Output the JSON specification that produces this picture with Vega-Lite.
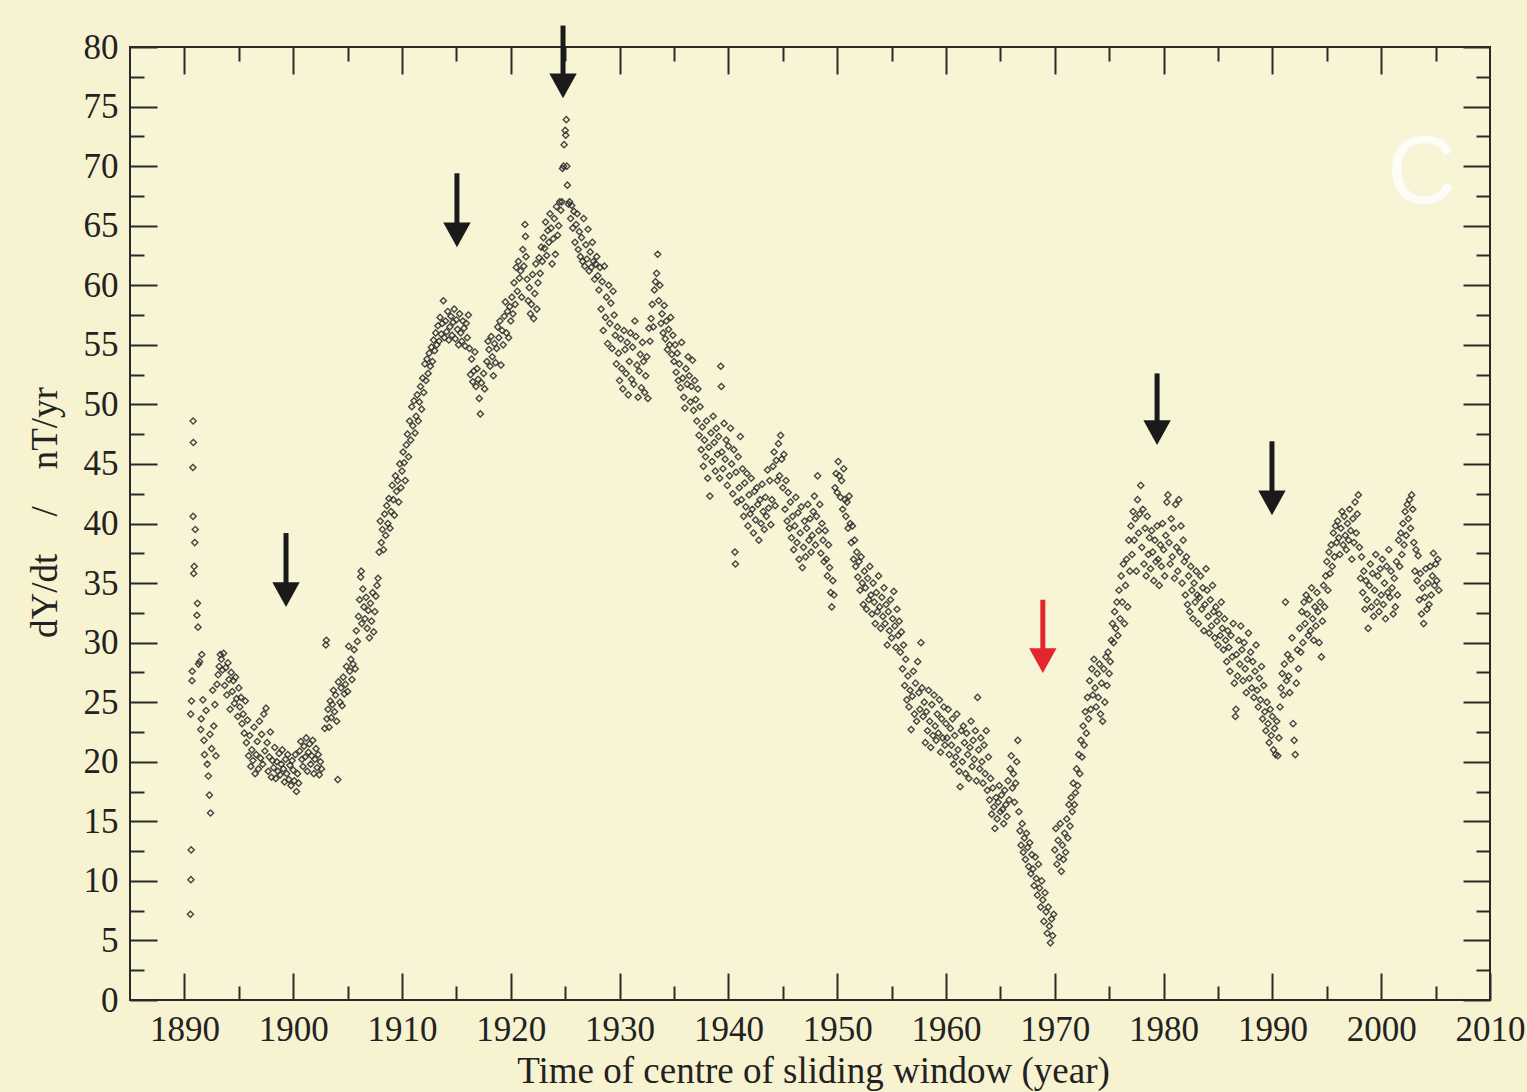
{
"$schema": "https://vega.github.io/schema/vega-lite/v6.json",
"width": 1360, "height": 953,
"autosize": "none",
"padding": {"left": 130, "top": 47, "right": 37, "bottom": 92},
"background": "#f7f2d0",
"config": {
  "view": {"stroke": "#2a2a2a", "strokeWidth": 2, "fill": "#f8f4d6"},
  "font": "Liberation Serif",
  "axis": {"domain": false, "grid": false, "tickColor": "#2a2a2a", "tickWidth": 2, "labelFont": "Liberation Serif", "labelFontSize": 35, "labelColor": "#222222", "titleFont": "Liberation Serif", "titleFontSize": 37, "titleFontWeight": "normal", "titleColor": "#222222", "labelFlush": false, "labelOverlap": false}
},
"datasets": {
"arrows": [
 {"yr": 1899.34, "from": 39.2, "to": 33.0, "kind": "black"},
 {"yr": 1915.05, "from": 69.4, "to": 63.2, "kind": "black"},
 {"yr": 1924.8, "from": 81.8, "to": 75.7, "kind": "black"},
 {"yr": 1968.9, "from": 33.6, "to": 27.45, "kind": "red"},
 {"yr": 1979.4, "from": 52.6, "to": 46.6, "kind": "black"},
 {"yr": 1989.96, "from": 46.9, "to": 40.7, "kind": "black"}
],
"label": [{"yr": 2003.75, "dy": 69.3, "txt": "C"}],
"pts": [
{"yr":1890.55,"dy":7.2},{"yr":1890.6,"dy":10.1},{"yr":1890.62,"dy":12.6},{"yr":1890.58,"dy":24.0},{"yr":1890.65,"dy":25.1},{"yr":1890.7,"dy":26.8},{"yr":1890.72,"dy":27.6},{"yr":1890.85,"dy":35.8},{"yr":1890.9,"dy":36.4},{"yr":1890.8,"dy":40.6},{"yr":1890.78,"dy":44.7},{"yr":1890.82,"dy":46.8},{"yr":1890.8,"dy":48.6},{"yr":1891.0,"dy":39.5},{"yr":1890.95,"dy":38.4},{"yr":1891.2,"dy":33.3},{"yr":1891.15,"dy":32.3},{"yr":1891.25,"dy":31.3},
{"yr":1891.3,"dy":28.2},{"yr":1891.4,"dy":28.4},{"yr":1891.5,"dy":22.7},{"yr":1891.55,"dy":23.6},{"yr":1891.6,"dy":29.0},{"yr":1891.7,"dy":25.2},{"yr":1891.8,"dy":21.8},{"yr":1891.85,"dy":20.6},{"yr":1892.0,"dy":24.3},{"yr":1892.1,"dy":19.8},{"yr":1892.2,"dy":18.8},{"yr":1892.3,"dy":17.2},{"yr":1892.4,"dy":15.7},{"yr":1892.35,"dy":22.3},{"yr":1892.5,"dy":21.1},{"yr":1892.6,"dy":26.0},{"yr":1892.7,"dy":23.0},{"yr":1892.8,"dy":24.8},{"yr":1892.9,"dy":20.5},{"yr":1893.0,"dy":26.5},{"yr":1893.1,"dy":27.3},{"yr":1893.2,"dy":28.0},{"yr":1893.3,"dy":29.0},{"yr":1893.4,"dy":28.6},{"yr":1893.5,"dy":27.7},{"yr":1893.6,"dy":29.1},{"yr":1893.7,"dy":26.4},{"yr":1893.8,"dy":27.9},{"yr":1893.9,"dy":25.6},{"yr":1894.0,"dy":28.3},{"yr":1894.1,"dy":26.9},{"yr":1894.2,"dy":24.4},{"yr":1894.3,"dy":27.5},{"yr":1894.4,"dy":25.9},{"yr":1894.5,"dy":26.8},{"yr":1894.6,"dy":24.9},{"yr":1894.7,"dy":27.1},{"yr":1894.8,"dy":25.3},{"yr":1894.9,"dy":23.8},{"yr":1895.0,"dy":26.2},{"yr":1895.1,"dy":24.6},{"yr":1895.2,"dy":25.4},{"yr":1895.3,"dy":23.2},{"yr":1895.4,"dy":24.0},{"yr":1895.5,"dy":22.4},{"yr":1895.6,"dy":25.1},{"yr":1895.7,"dy":21.6},{"yr":1895.8,"dy":23.5},{"yr":1895.9,"dy":20.5},{"yr":1896.0,"dy":22.2},
{"yr":1896.1,"dy":19.6},{"yr":1896.2,"dy":21.0},{"yr":1896.3,"dy":20.1},{"yr":1896.4,"dy":22.9},{"yr":1896.5,"dy":19.0},{"yr":1896.6,"dy":20.6},{"yr":1896.7,"dy":21.7},{"yr":1896.8,"dy":19.4},{"yr":1896.9,"dy":23.4},{"yr":1897.0,"dy":20.3},{"yr":1897.1,"dy":22.3},{"yr":1897.2,"dy":19.8},{"yr":1897.3,"dy":24.0},{"yr":1897.4,"dy":20.9},{"yr":1897.5,"dy":24.5},{"yr":1897.6,"dy":21.6},{"yr":1897.7,"dy":19.2},{"yr":1897.8,"dy":20.4},{"yr":1897.9,"dy":22.5},{"yr":1898.0,"dy":18.7},{"yr":1898.1,"dy":20.1},{"yr":1898.2,"dy":19.5},{"yr":1898.3,"dy":21.2},{"yr":1898.4,"dy":18.6},{"yr":1898.5,"dy":20.0},{"yr":1898.6,"dy":19.2},{"yr":1898.7,"dy":20.7},{"yr":1898.8,"dy":18.9},{"yr":1898.9,"dy":19.8},{"yr":1899.0,"dy":21.0},{"yr":1899.1,"dy":19.4},{"yr":1899.2,"dy":18.3},{"yr":1899.3,"dy":20.2},{"yr":1899.4,"dy":19.0},{"yr":1899.5,"dy":20.6},{"yr":1899.6,"dy":18.5},{"yr":1899.7,"dy":19.7},{"yr":1899.8,"dy":18.0},{"yr":1899.9,"dy":20.1},{"yr":1900.0,"dy":19.3},{"yr":1900.1,"dy":18.4},{"yr":1900.2,"dy":20.6},{"yr":1900.3,"dy":17.5},{"yr":1900.4,"dy":19.0},{"yr":1900.5,"dy":18.2},{"yr":1900.6,"dy":20.9},{"yr":1900.7,"dy":21.7},{"yr":1900.8,"dy":20.2},{"yr":1900.9,"dy":19.6},{"yr":1901.0,"dy":21.3},{"yr":1901.1,"dy":20.4},{"yr":1901.2,"dy":22.0},{"yr":1901.3,"dy":19.2},{"yr":1901.4,"dy":20.8},{"yr":1901.5,"dy":21.5},{"yr":1901.6,"dy":19.8},{"yr":1901.7,"dy":20.5},{"yr":1901.8,"dy":21.8},{"yr":1901.9,"dy":19.0},{"yr":1902.0,"dy":20.2},{"yr":1902.1,"dy":21.1},{"yr":1902.2,"dy":19.5},{"yr":1902.3,"dy":20.6},{"yr":1902.4,"dy":18.9},{"yr":1902.5,"dy":20.0},{"yr":1902.6,"dy":19.4},
{"yr":1902.9,"dy":22.8},{"yr":1903.0,"dy":29.8},{"yr":1903.05,"dy":30.2},{"yr":1903.1,"dy":23.6},{"yr":1903.2,"dy":24.4},{"yr":1903.3,"dy":22.9},{"yr":1903.4,"dy":25.1},{"yr":1903.5,"dy":23.7},{"yr":1903.6,"dy":24.8},{"yr":1903.7,"dy":26.0},{"yr":1903.8,"dy":24.2},{"yr":1903.9,"dy":25.6},{"yr":1904.0,"dy":23.4},{"yr":1904.1,"dy":18.5},{"yr":1904.15,"dy":26.7},{"yr":1904.3,"dy":25.0},{"yr":1904.4,"dy":26.2},{"yr":1904.5,"dy":24.7},{"yr":1904.6,"dy":27.1},{"yr":1904.7,"dy":25.7},{"yr":1904.8,"dy":26.5},{"yr":1904.9,"dy":28.0},{"yr":1905.0,"dy":25.9},{"yr":1905.1,"dy":29.7},{"yr":1905.2,"dy":27.6},{"yr":1905.3,"dy":28.6},{"yr":1905.4,"dy":26.9},{"yr":1905.5,"dy":28.2},{"yr":1905.6,"dy":29.4},{"yr":1905.7,"dy":27.8},{"yr":1905.8,"dy":31.0},{"yr":1905.9,"dy":30.1},{"yr":1906.0,"dy":32.2},{"yr":1906.1,"dy":33.6},{"yr":1906.2,"dy":35.5},{"yr":1906.25,"dy":36.0},{"yr":1906.3,"dy":31.6},{"yr":1906.4,"dy":34.5},{"yr":1906.5,"dy":33.0},{"yr":1906.6,"dy":32.0},{"yr":1906.7,"dy":33.8},{"yr":1906.8,"dy":31.2},{"yr":1906.9,"dy":32.7},{"yr":1907.0,"dy":30.4},{"yr":1907.1,"dy":33.3},{"yr":1907.2,"dy":31.8},{"yr":1907.3,"dy":34.2},{"yr":1907.4,"dy":30.9},{"yr":1907.5,"dy":32.6},{"yr":1907.6,"dy":33.9},{"yr":1907.7,"dy":34.8},{"yr":1907.8,"dy":35.4},{"yr":1907.9,"dy":37.6},{"yr":1908.0,"dy":40.2},{"yr":1908.1,"dy":38.4},{"yr":1908.2,"dy":39.5},{"yr":1908.3,"dy":37.8},{"yr":1908.4,"dy":40.8},{"yr":1908.5,"dy":39.0},{"yr":1908.6,"dy":41.5},{"yr":1908.7,"dy":40.0},{"yr":1908.8,"dy":42.1},{"yr":1908.9,"dy":39.6},{"yr":1909.0,"dy":41.0},{"yr":1909.1,"dy":43.2},{"yr":1909.2,"dy":42.0},{"yr":1909.3,"dy":40.7},{"yr":1909.4,"dy":44.0},{"yr":1909.5,"dy":42.7},{"yr":1909.6,"dy":43.6},{"yr":1909.7,"dy":41.8},{"yr":1909.8,"dy":45.0},{"yr":1909.9,"dy":43.0},{"yr":1910.0,"dy":44.4},{"yr":1910.1,"dy":46.0},{"yr":1910.2,"dy":45.1},{"yr":1910.3,"dy":43.6},{"yr":1910.4,"dy":46.6},{"yr":1910.5,"dy":47.5},{"yr":1910.6,"dy":45.6},{"yr":1910.7,"dy":48.6},{"yr":1910.8,"dy":47.0},{"yr":1910.9,"dy":49.8},{"yr":1911.0,"dy":48.2},{"yr":1911.1,"dy":50.3},{"yr":1911.2,"dy":47.6},{"yr":1911.3,"dy":49.0},{"yr":1911.4,"dy":50.8},{"yr":1911.5,"dy":48.6},{"yr":1911.6,"dy":50.2},{"yr":1911.7,"dy":51.5},{"yr":1911.8,"dy":49.6},{"yr":1911.9,"dy":52.2},{"yr":1912.0,"dy":51.0},{"yr":1912.1,"dy":53.4},{"yr":1912.2,"dy":52.0},{"yr":1912.3,"dy":53.8},{"yr":1912.4,"dy":52.6},{"yr":1912.5,"dy":54.3},{"yr":1912.6,"dy":53.2},{"yr":1912.7,"dy":54.8},{"yr":1912.8,"dy":53.6},{"yr":1912.9,"dy":55.4},{"yr":1913.0,"dy":54.5},{"yr":1913.1,"dy":56.0},{"yr":1913.2,"dy":55.0},{"yr":1913.3,"dy":56.6},{"yr":1913.4,"dy":55.3},{"yr":1913.5,"dy":57.3},{"yr":1913.6,"dy":55.9},{"yr":1913.7,"dy":56.8},{"yr":1913.8,"dy":58.7},{"yr":1913.9,"dy":55.6},{"yr":1914.0,"dy":57.0},{"yr":1914.1,"dy":56.1},{"yr":1914.2,"dy":57.8},{"yr":1914.3,"dy":55.4},{"yr":1914.4,"dy":56.5},{"yr":1914.5,"dy":57.4},{"yr":1914.6,"dy":55.8},{"yr":1914.7,"dy":56.9},{"yr":1914.8,"dy":58.0},{"yr":1914.9,"dy":55.5},{"yr":1915.0,"dy":57.1},{"yr":1915.1,"dy":56.3},{"yr":1915.2,"dy":55.0},{"yr":1915.3,"dy":57.6},{"yr":1915.4,"dy":56.0},{"yr":1915.5,"dy":55.3},{"yr":1915.6,"dy":57.0},{"yr":1915.7,"dy":56.4},{"yr":1915.8,"dy":54.9},{"yr":1915.9,"dy":56.8},{"yr":1916.0,"dy":55.6},{"yr":1916.1,"dy":57.5},{"yr":1916.2,"dy":54.7},
{"yr":1916.3,"dy":52.5},{"yr":1916.4,"dy":53.8},{"yr":1916.5,"dy":51.9},{"yr":1916.6,"dy":52.8},{"yr":1916.7,"dy":54.4},{"yr":1916.8,"dy":51.5},{"yr":1916.9,"dy":53.0},{"yr":1917.0,"dy":52.1},{"yr":1917.1,"dy":50.5},{"yr":1917.2,"dy":49.2},{"yr":1917.3,"dy":51.8},{"yr":1917.5,"dy":52.6},{"yr":1917.6,"dy":51.3},{"yr":1917.8,"dy":53.6},{"yr":1917.9,"dy":55.3},{"yr":1918.0,"dy":54.6},{"yr":1918.1,"dy":53.2},{"yr":1918.2,"dy":55.7},{"yr":1918.3,"dy":54.0},{"yr":1918.4,"dy":52.4},{"yr":1918.5,"dy":55.1},{"yr":1918.6,"dy":53.5},{"yr":1918.7,"dy":54.7},{"yr":1918.8,"dy":56.5},{"yr":1918.9,"dy":55.6},{"yr":1919.0,"dy":57.0},{"yr":1919.1,"dy":53.3},{"yr":1919.2,"dy":56.2},{"yr":1919.3,"dy":55.0},{"yr":1919.4,"dy":57.4},{"yr":1919.5,"dy":58.6},{"yr":1919.6,"dy":56.0},{"yr":1919.7,"dy":57.8},{"yr":1919.8,"dy":55.6},{"yr":1919.9,"dy":58.2},{"yr":1920.0,"dy":57.0},{"yr":1920.1,"dy":59.0},{"yr":1920.2,"dy":57.6},{"yr":1920.3,"dy":60.2},{"yr":1920.4,"dy":58.4},{"yr":1920.5,"dy":61.5},{"yr":1920.6,"dy":59.5},{"yr":1920.7,"dy":62.0},{"yr":1920.8,"dy":60.6},{"yr":1920.9,"dy":61.2},{"yr":1921.0,"dy":59.0},{"yr":1921.1,"dy":63.0},{"yr":1921.2,"dy":61.6},{"yr":1921.3,"dy":65.1},{"yr":1921.35,"dy":64.1},{"yr":1921.4,"dy":62.4},{"yr":1921.5,"dy":60.5},{"yr":1921.6,"dy":58.7},{"yr":1921.7,"dy":59.8},{"yr":1921.8,"dy":57.6},{"yr":1921.9,"dy":58.4},{"yr":1922.0,"dy":60.9},{"yr":1922.1,"dy":57.2},{"yr":1922.2,"dy":59.3},{"yr":1922.3,"dy":61.8},{"yr":1922.4,"dy":58.0},{"yr":1922.5,"dy":60.2},{"yr":1922.6,"dy":62.3},{"yr":1922.7,"dy":61.0},{"yr":1922.8,"dy":63.2},{"yr":1922.9,"dy":62.0},{"yr":1923.0,"dy":64.0},{"yr":1923.1,"dy":63.1},{"yr":1923.2,"dy":65.3},{"yr":1923.3,"dy":62.5},{"yr":1923.4,"dy":64.6},{"yr":1923.5,"dy":63.6},{"yr":1923.6,"dy":66.0},{"yr":1923.7,"dy":64.8},{"yr":1923.8,"dy":61.8},{"yr":1923.9,"dy":63.9},{"yr":1924.0,"dy":65.6},{"yr":1924.1,"dy":62.6},{"yr":1924.2,"dy":66.6},{"yr":1924.3,"dy":64.2},{"yr":1924.4,"dy":65.0},{"yr":1924.5,"dy":67.0},{"yr":1924.6,"dy":66.3},{"yr":1924.7,"dy":67.0},{"yr":1924.75,"dy":69.8},{"yr":1924.85,"dy":70.0},{"yr":1924.9,"dy":71.8},{"yr":1925.0,"dy":73.0},{"yr":1925.05,"dy":72.6},{"yr":1925.1,"dy":73.9},{"yr":1925.15,"dy":70.0},{"yr":1925.2,"dy":68.4},{"yr":1925.3,"dy":66.8},{"yr":1925.4,"dy":67.0},{"yr":1925.5,"dy":65.6},{"yr":1925.6,"dy":66.7},{"yr":1925.7,"dy":64.8},{"yr":1925.8,"dy":66.2},{"yr":1925.9,"dy":63.6},{"yr":1926.0,"dy":65.1},{"yr":1926.1,"dy":66.0},{"yr":1926.2,"dy":63.0},{"yr":1926.3,"dy":64.5},{"yr":1926.4,"dy":62.4},{"yr":1926.5,"dy":64.0},{"yr":1926.6,"dy":62.0},{"yr":1926.7,"dy":65.6},{"yr":1926.8,"dy":61.6},{"yr":1926.9,"dy":63.4},{"yr":1927.0,"dy":62.2},{"yr":1927.1,"dy":64.7},{"yr":1927.2,"dy":61.2},{"yr":1927.3,"dy":62.8},{"yr":1927.4,"dy":61.5},{"yr":1927.5,"dy":63.6},{"yr":1927.6,"dy":62.0},{"yr":1927.7,"dy":60.5},{"yr":1927.8,"dy":61.8},{"yr":1927.9,"dy":62.4},{"yr":1928.0,"dy":60.8},{"yr":1928.1,"dy":59.6},{"yr":1928.2,"dy":61.5},{"yr":1928.3,"dy":58.0},{"yr":1928.4,"dy":60.3},{"yr":1928.5,"dy":56.2},{"yr":1928.6,"dy":61.6},{"yr":1928.7,"dy":57.3},{"yr":1928.8,"dy":59.0},{"yr":1928.9,"dy":55.1},{"yr":1929.0,"dy":60.0},{"yr":1929.1,"dy":56.8},{"yr":1929.2,"dy":58.5},{"yr":1929.3,"dy":54.7},{"yr":1929.4,"dy":59.5},{"yr":1929.5,"dy":57.5},{"yr":1929.6,"dy":55.8},{"yr":1929.7,"dy":53.4},{"yr":1929.8,"dy":56.5},{"yr":1929.9,"dy":54.3},{"yr":1930.0,"dy":52.0},{"yr":1930.1,"dy":55.5},{"yr":1930.2,"dy":53.0},{"yr":1930.3,"dy":51.3},{"yr":1930.4,"dy":56.2},{"yr":1930.5,"dy":54.6},{"yr":1930.6,"dy":52.6},{"yr":1930.7,"dy":55.2},{"yr":1930.8,"dy":50.8},{"yr":1930.9,"dy":53.6},{"yr":1931.0,"dy":56.0},{"yr":1931.1,"dy":52.1},{"yr":1931.2,"dy":54.8},{"yr":1931.3,"dy":51.7},{"yr":1931.4,"dy":57.0},{"yr":1931.5,"dy":55.7},{"yr":1931.6,"dy":53.3},{"yr":1931.7,"dy":50.6},{"yr":1931.8,"dy":52.8},{"yr":1931.9,"dy":54.2},{"yr":1932.0,"dy":51.4},{"yr":1932.1,"dy":55.2},{"yr":1932.2,"dy":53.6},{"yr":1932.3,"dy":51.0},{"yr":1932.4,"dy":52.4},{"yr":1932.5,"dy":54.0},{"yr":1932.6,"dy":50.5},{"yr":1932.7,"dy":56.4},{"yr":1932.8,"dy":55.3},{"yr":1932.9,"dy":57.2},{"yr":1933.0,"dy":58.4},{"yr":1933.1,"dy":56.5},{"yr":1933.2,"dy":59.6},{"yr":1933.3,"dy":60.3},{"yr":1933.4,"dy":61.0},{"yr":1933.5,"dy":62.6},{"yr":1933.6,"dy":58.7},{"yr":1933.7,"dy":60.0},{"yr":1933.8,"dy":56.8},{"yr":1933.9,"dy":57.6},{"yr":1934.0,"dy":56.0},{"yr":1934.1,"dy":58.3},{"yr":1934.2,"dy":55.5},{"yr":1934.3,"dy":57.0},{"yr":1934.4,"dy":54.6},{"yr":1934.5,"dy":56.3},{"yr":1934.6,"dy":55.0},{"yr":1934.7,"dy":57.3},{"yr":1934.8,"dy":54.2},{"yr":1934.9,"dy":55.8},{"yr":1935.0,"dy":53.6},{"yr":1935.1,"dy":55.0},{"yr":1935.2,"dy":52.7},{"yr":1935.3,"dy":54.3},{"yr":1935.4,"dy":52.0},{"yr":1935.5,"dy":53.4},{"yr":1935.6,"dy":51.4},{"yr":1935.7,"dy":55.2},{"yr":1935.8,"dy":52.2},{"yr":1935.9,"dy":50.6},{"yr":1936.0,"dy":49.7},{"yr":1936.1,"dy":53.0},{"yr":1936.2,"dy":51.7},{"yr":1936.3,"dy":54.0},{"yr":1936.4,"dy":52.4},{"yr":1936.5,"dy":50.2},{"yr":1936.6,"dy":51.5},{"yr":1936.7,"dy":53.7},{"yr":1936.8,"dy":49.5},{"yr":1936.9,"dy":52.0},{"yr":1937.0,"dy":50.4},{"yr":1937.1,"dy":48.6},{"yr":1937.2,"dy":51.3},{"yr":1937.3,"dy":47.4},{"yr":1937.4,"dy":49.8},{"yr":1937.5,"dy":46.2},{"yr":1937.6,"dy":48.1},{"yr":1937.7,"dy":44.8},{"yr":1937.8,"dy":47.0},{"yr":1937.9,"dy":45.6},{"yr":1938.0,"dy":48.6},{"yr":1938.1,"dy":43.8},{"yr":1938.2,"dy":46.4},{"yr":1938.3,"dy":42.3},{"yr":1938.4,"dy":47.6},{"yr":1938.5,"dy":45.2},{"yr":1938.6,"dy":49.0},{"yr":1938.7,"dy":46.8},{"yr":1938.8,"dy":44.4},{"yr":1938.9,"dy":48.0},{"yr":1939.0,"dy":45.8},{"yr":1939.1,"dy":47.3},{"yr":1939.2,"dy":43.8},{"yr":1939.3,"dy":53.2},{"yr":1939.35,"dy":51.5},{"yr":1939.4,"dy":46.0},{"yr":1939.5,"dy":44.6},{"yr":1939.6,"dy":48.4},{"yr":1939.7,"dy":45.4},{"yr":1939.8,"dy":47.0},{"yr":1939.9,"dy":43.2},{"yr":1940.0,"dy":46.5},{"yr":1940.1,"dy":44.0},{"yr":1940.2,"dy":48.0},{"yr":1940.3,"dy":45.0},{"yr":1940.4,"dy":42.5},{"yr":1940.5,"dy":46.2},{"yr":1940.6,"dy":37.6},{"yr":1940.65,"dy":36.6},{"yr":1940.7,"dy":44.3},{"yr":1940.8,"dy":41.8},{"yr":1940.9,"dy":45.6},{"yr":1941.0,"dy":43.0},{"yr":1941.1,"dy":47.3},{"yr":1941.2,"dy":42.0},{"yr":1941.3,"dy":44.6},{"yr":1941.4,"dy":40.6},{"yr":1941.5,"dy":43.4},{"yr":1941.6,"dy":41.4},{"yr":1941.7,"dy":44.2},{"yr":1941.8,"dy":39.8},{"yr":1941.9,"dy":42.4},{"yr":1942.0,"dy":40.8},{"yr":1942.1,"dy":43.8},{"yr":1942.2,"dy":41.2},{"yr":1942.3,"dy":39.2},{"yr":1942.4,"dy":42.7},{"yr":1942.5,"dy":40.3},{"yr":1942.6,"dy":43.0},{"yr":1942.7,"dy":41.6},{"yr":1942.8,"dy":38.6},{"yr":1942.9,"dy":42.0},{"yr":1943.0,"dy":40.0},{"yr":1943.1,"dy":43.3},{"yr":1943.2,"dy":41.0},{"yr":1943.3,"dy":39.5},{"yr":1943.4,"dy":42.2},{"yr":1943.5,"dy":40.6},{"yr":1943.6,"dy":44.5},{"yr":1943.7,"dy":41.3},{"yr":1943.8,"dy":43.6},{"yr":1943.9,"dy":39.9},{"yr":1944.0,"dy":42.0},{"yr":1944.1,"dy":44.8},{"yr":1944.2,"dy":46.0},{"yr":1944.3,"dy":41.5},{"yr":1944.4,"dy":45.3},{"yr":1944.5,"dy":43.6},{"yr":1944.6,"dy":46.7},{"yr":1944.7,"dy":44.0},{"yr":1944.8,"dy":47.4},{"yr":1944.9,"dy":45.4},{"yr":1945.0,"dy":43.0},{"yr":1945.1,"dy":45.8},{"yr":1945.2,"dy":41.2},{"yr":1945.3,"dy":43.6},{"yr":1945.4,"dy":40.2},{"yr":1945.5,"dy":42.6},{"yr":1945.6,"dy":39.6},{"yr":1945.7,"dy":41.8},{"yr":1945.8,"dy":38.8},{"yr":1945.9,"dy":40.6},{"yr":1946.0,"dy":37.8},{"yr":1946.1,"dy":39.8},{"yr":1946.2,"dy":42.2},{"yr":1946.3,"dy":38.4},{"yr":1946.4,"dy":40.9},{"yr":1946.5,"dy":37.0},{"yr":1946.6,"dy":39.2},{"yr":1946.7,"dy":41.4},{"yr":1946.8,"dy":36.3},{"yr":1946.9,"dy":38.0},{"yr":1947.0,"dy":40.2},{"yr":1947.1,"dy":37.2},{"yr":1947.2,"dy":39.6},{"yr":1947.3,"dy":41.6},{"yr":1947.4,"dy":38.6},{"yr":1947.5,"dy":40.4},{"yr":1947.6,"dy":37.6},{"yr":1947.7,"dy":39.0},{"yr":1947.8,"dy":41.0},{"yr":1947.9,"dy":42.3},{"yr":1948.0,"dy":38.2},{"yr":1948.1,"dy":40.6},{"yr":1948.2,"dy":44.0},{"yr":1948.3,"dy":39.4},{"yr":1948.4,"dy":41.6},{"yr":1948.5,"dy":37.5},{"yr":1948.6,"dy":40.0},{"yr":1948.7,"dy":38.6},{"yr":1948.8,"dy":36.8},{"yr":1948.9,"dy":39.4},{"yr":1949.0,"dy":37.0},{"yr":1949.1,"dy":35.6},{"yr":1949.2,"dy":38.2},{"yr":1949.3,"dy":36.3},{"yr":1949.4,"dy":34.2},{"yr":1949.5,"dy":33.0},{"yr":1949.6,"dy":35.2},{"yr":1949.7,"dy":34.0},{"yr":1949.8,"dy":43.0},{"yr":1949.9,"dy":44.2},{"yr":1950.0,"dy":42.6},{"yr":1950.1,"dy":45.2},{"yr":1950.2,"dy":44.0},{"yr":1950.3,"dy":42.2},{"yr":1950.4,"dy":43.6},{"yr":1950.5,"dy":41.2},{"yr":1950.6,"dy":44.6},{"yr":1950.7,"dy":42.0},{"yr":1950.8,"dy":40.6},{"yr":1950.9,"dy":41.8},{"yr":1951.0,"dy":39.6},{"yr":1951.1,"dy":42.3},{"yr":1951.2,"dy":40.0},{"yr":1951.3,"dy":38.4},{"yr":1951.4,"dy":39.8},{"yr":1951.5,"dy":37.0},{"yr":1951.6,"dy":38.6},{"yr":1951.7,"dy":36.4},{"yr":1951.8,"dy":37.6},{"yr":1951.9,"dy":35.5},{"yr":1952.0,"dy":36.8},{"yr":1952.1,"dy":34.4},{"yr":1952.2,"dy":37.2},{"yr":1952.3,"dy":35.0},{"yr":1952.4,"dy":33.2},{"yr":1952.5,"dy":36.0},{"yr":1952.6,"dy":34.6},{"yr":1952.7,"dy":32.8},{"yr":1952.8,"dy":35.4},{"yr":1952.9,"dy":33.6},{"yr":1953.0,"dy":36.4},{"yr":1953.1,"dy":34.0},{"yr":1953.2,"dy":32.4},{"yr":1953.3,"dy":35.0},{"yr":1953.4,"dy":33.4},{"yr":1953.5,"dy":31.6},{"yr":1953.6,"dy":34.2},{"yr":1953.7,"dy":32.6},{"yr":1953.8,"dy":35.6},{"yr":1953.9,"dy":33.0},{"yr":1954.0,"dy":31.2},{"yr":1954.1,"dy":33.8},{"yr":1954.2,"dy":32.2},{"yr":1954.3,"dy":34.6},{"yr":1954.4,"dy":31.6},{"yr":1954.5,"dy":33.2},{"yr":1954.6,"dy":29.8},{"yr":1954.7,"dy":32.6},{"yr":1954.8,"dy":31.0},{"yr":1954.9,"dy":33.6},{"yr":1955.0,"dy":30.4},{"yr":1955.1,"dy":32.0},{"yr":1955.2,"dy":34.3},{"yr":1955.3,"dy":31.4},{"yr":1955.4,"dy":29.6},{"yr":1955.5,"dy":32.8},{"yr":1955.6,"dy":30.6},{"yr":1955.7,"dy":31.8},{"yr":1955.8,"dy":29.2},{"yr":1955.9,"dy":30.9},{"yr":1956.0,"dy":27.8},{"yr":1956.1,"dy":29.8},{"yr":1956.2,"dy":26.4},{"yr":1956.3,"dy":28.6},{"yr":1956.4,"dy":25.2},{"yr":1956.5,"dy":27.2},{"yr":1956.6,"dy":24.6},{"yr":1956.7,"dy":26.0},{"yr":1956.8,"dy":22.7},{"yr":1956.9,"dy":25.5},{"yr":1957.0,"dy":27.6},{"yr":1957.1,"dy":24.0},{"yr":1957.2,"dy":26.6},{"yr":1957.3,"dy":23.4},{"yr":1957.4,"dy":28.4},{"yr":1957.5,"dy":25.8},{"yr":1957.6,"dy":24.4},{"yr":1957.7,"dy":30.0},{"yr":1957.8,"dy":26.2},{"yr":1957.9,"dy":23.8},{"yr":1958.0,"dy":25.0},{"yr":1958.1,"dy":21.6},{"yr":1958.2,"dy":24.2},{"yr":1958.3,"dy":22.6},{"yr":1958.4,"dy":26.0},{"yr":1958.5,"dy":23.4},{"yr":1958.6,"dy":21.2},{"yr":1958.7,"dy":24.8},{"yr":1958.8,"dy":22.2},{"yr":1958.9,"dy":25.6},{"yr":1959.0,"dy":23.0},{"yr":1959.1,"dy":21.8},{"yr":1959.2,"dy":24.0},{"yr":1959.3,"dy":22.4},{"yr":1959.4,"dy":25.2},{"yr":1959.5,"dy":20.8},{"yr":1959.6,"dy":23.6},{"yr":1959.7,"dy":22.0},{"yr":1959.8,"dy":24.6},{"yr":1959.9,"dy":21.4},{"yr":1960.0,"dy":23.2},{"yr":1960.1,"dy":22.0},{"yr":1960.2,"dy":24.4},{"yr":1960.3,"dy":20.6},{"yr":1960.4,"dy":22.8},{"yr":1960.5,"dy":21.4},{"yr":1960.6,"dy":23.6},{"yr":1960.7,"dy":19.8},{"yr":1960.8,"dy":22.2},{"yr":1960.9,"dy":20.4},{"yr":1961.0,"dy":24.0},{"yr":1961.1,"dy":21.0},{"yr":1961.2,"dy":19.2},{"yr":1961.3,"dy":17.9},{"yr":1961.4,"dy":22.6},{"yr":1961.5,"dy":20.0},{"yr":1961.6,"dy":23.0},{"yr":1961.7,"dy":21.6},{"yr":1961.8,"dy":19.0},{"yr":1961.9,"dy":22.4},{"yr":1962.0,"dy":20.6},{"yr":1962.1,"dy":18.6},{"yr":1962.2,"dy":21.2},{"yr":1962.3,"dy":23.4},{"yr":1962.4,"dy":19.6},{"yr":1962.5,"dy":21.8},{"yr":1962.6,"dy":20.2},{"yr":1962.7,"dy":22.6},{"yr":1962.8,"dy":18.4},{"yr":1962.9,"dy":25.4},{"yr":1963.0,"dy":21.0},{"yr":1963.1,"dy":19.4},{"yr":1963.2,"dy":22.0},{"yr":1963.3,"dy":20.0},{"yr":1963.4,"dy":18.2},{"yr":1963.5,"dy":21.4},{"yr":1963.6,"dy":19.0},{"yr":1963.7,"dy":22.6},{"yr":1963.8,"dy":17.6},{"yr":1963.9,"dy":20.4},{"yr":1964.0,"dy":16.8},{"yr":1964.1,"dy":18.6},{"yr":1964.2,"dy":15.6},{"yr":1964.3,"dy":17.8},{"yr":1964.4,"dy":16.2},{"yr":1964.5,"dy":14.4},{"yr":1964.6,"dy":17.0},{"yr":1964.7,"dy":15.2},{"yr":1964.8,"dy":16.6},{"yr":1964.9,"dy":18.0},{"yr":1965.0,"dy":15.8},{"yr":1965.1,"dy":17.2},{"yr":1965.2,"dy":16.0},{"yr":1965.3,"dy":14.8},{"yr":1965.4,"dy":17.6},{"yr":1965.5,"dy":16.4},{"yr":1965.6,"dy":15.4},{"yr":1965.7,"dy":18.4},{"yr":1965.8,"dy":16.8},{"yr":1965.9,"dy":19.4},{"yr":1966.0,"dy":20.5},{"yr":1966.1,"dy":17.8},{"yr":1966.2,"dy":19.0},{"yr":1966.3,"dy":16.6},{"yr":1966.4,"dy":18.2},{"yr":1966.5,"dy":20.0},{"yr":1966.6,"dy":21.8},{"yr":1966.7,"dy":15.8},{"yr":1966.8,"dy":14.2},{"yr":1966.9,"dy":13.0},{"yr":1967.0,"dy":14.8},{"yr":1967.1,"dy":12.4},{"yr":1967.2,"dy":13.6},{"yr":1967.3,"dy":11.8},{"yr":1967.4,"dy":14.0},{"yr":1967.5,"dy":12.8},{"yr":1967.6,"dy":11.2},{"yr":1967.7,"dy":13.2},{"yr":1967.8,"dy":10.6},{"yr":1967.9,"dy":12.2},{"yr":1968.0,"dy":11.0},{"yr":1968.1,"dy":9.6},{"yr":1968.2,"dy":12.0},{"yr":1968.3,"dy":10.2},{"yr":1968.4,"dy":8.8},{"yr":1968.5,"dy":11.4},{"yr":1968.6,"dy":9.4},{"yr":1968.7,"dy":7.8},{"yr":1968.8,"dy":10.0},{"yr":1968.9,"dy":8.4},{"yr":1969.0,"dy":6.6},{"yr":1969.1,"dy":9.0},{"yr":1969.2,"dy":7.4},{"yr":1969.3,"dy":5.6},{"yr":1969.4,"dy":7.8},{"yr":1969.5,"dy":6.2},{"yr":1969.6,"dy":4.8},{"yr":1969.7,"dy":6.8},{"yr":1969.8,"dy":5.4},{"yr":1969.9,"dy":7.2},{"yr":1970.0,"dy":12.6},{"yr":1970.1,"dy":14.4},{"yr":1970.2,"dy":11.4},{"yr":1970.3,"dy":13.4},{"yr":1970.4,"dy":12.0},{"yr":1970.5,"dy":14.8},{"yr":1970.6,"dy":10.8},{"yr":1970.7,"dy":13.0},{"yr":1970.8,"dy":11.8},{"yr":1970.9,"dy":14.0},{"yr":1971.0,"dy":12.4},{"yr":1971.1,"dy":15.2},{"yr":1971.2,"dy":13.6},{"yr":1971.3,"dy":16.4},{"yr":1971.4,"dy":14.6},{"yr":1971.5,"dy":17.0},{"yr":1971.6,"dy":15.8},{"yr":1971.7,"dy":18.2},{"yr":1971.8,"dy":16.4},{"yr":1971.9,"dy":17.4},{"yr":1972.0,"dy":19.4},{"yr":1972.1,"dy":18.0},{"yr":1972.2,"dy":20.6},{"yr":1972.3,"dy":19.0},{"yr":1972.4,"dy":21.8},{"yr":1972.5,"dy":20.4},{"yr":1972.6,"dy":23.0},{"yr":1972.7,"dy":21.4},{"yr":1972.8,"dy":24.2},{"yr":1972.9,"dy":22.4},{"yr":1973.0,"dy":25.4},{"yr":1973.1,"dy":23.6},{"yr":1973.2,"dy":26.8},{"yr":1973.3,"dy":24.4},{"yr":1973.4,"dy":27.8},{"yr":1973.5,"dy":25.6},{"yr":1973.6,"dy":28.6},{"yr":1973.7,"dy":26.2},{"yr":1973.8,"dy":24.6},{"yr":1973.9,"dy":27.4},{"yr":1974.0,"dy":25.4},{"yr":1974.1,"dy":28.2},{"yr":1974.2,"dy":24.0},{"yr":1974.3,"dy":26.6},{"yr":1974.4,"dy":23.4},{"yr":1974.5,"dy":27.8},{"yr":1974.6,"dy":25.0},{"yr":1974.7,"dy":28.8},{"yr":1974.8,"dy":26.4},{"yr":1974.9,"dy":29.2},{"yr":1975.0,"dy":27.4},{"yr":1975.1,"dy":28.4},{"yr":1975.2,"dy":30.2},{"yr":1975.3,"dy":31.6},{"yr":1975.4,"dy":30.0},{"yr":1975.5,"dy":32.6},{"yr":1975.6,"dy":31.2},{"yr":1975.7,"dy":33.4},{"yr":1975.8,"dy":30.6},{"yr":1975.9,"dy":34.4},{"yr":1976.0,"dy":32.0},{"yr":1976.1,"dy":35.6},{"yr":1976.2,"dy":33.4},{"yr":1976.3,"dy":36.6},{"yr":1976.4,"dy":31.6},{"yr":1976.5,"dy":34.8},{"yr":1976.6,"dy":37.0},{"yr":1976.7,"dy":33.0},{"yr":1976.8,"dy":38.6},{"yr":1976.9,"dy":36.0},{"yr":1977.0,"dy":39.8},{"yr":1977.1,"dy":37.4},{"yr":1977.2,"dy":41.0},{"yr":1977.3,"dy":38.6},{"yr":1977.4,"dy":40.4},{"yr":1977.5,"dy":36.0},{"yr":1977.6,"dy":42.0},{"yr":1977.7,"dy":39.2},{"yr":1977.8,"dy":40.8},{"yr":1977.9,"dy":43.2},{"yr":1978.0,"dy":38.0},{"yr":1978.1,"dy":41.2},{"yr":1978.2,"dy":36.6},{"yr":1978.3,"dy":39.6},{"yr":1978.4,"dy":35.6},{"yr":1978.5,"dy":40.6},{"yr":1978.6,"dy":37.4},{"yr":1978.7,"dy":38.8},{"yr":1978.8,"dy":36.2},{"yr":1978.9,"dy":39.4},{"yr":1979.0,"dy":37.6},{"yr":1979.1,"dy":35.2},{"yr":1979.2,"dy":38.6},{"yr":1979.3,"dy":36.8},{"yr":1979.4,"dy":39.8},{"yr":1979.5,"dy":37.0},{"yr":1979.6,"dy":34.8},{"yr":1979.7,"dy":38.2},{"yr":1979.8,"dy":36.4},{"yr":1979.9,"dy":40.0},{"yr":1980.0,"dy":37.8},{"yr":1980.1,"dy":35.6},{"yr":1980.2,"dy":39.0},{"yr":1980.3,"dy":41.8},{"yr":1980.4,"dy":42.4},{"yr":1980.5,"dy":38.4},{"yr":1980.6,"dy":36.6},{"yr":1980.7,"dy":40.4},{"yr":1980.8,"dy":37.2},{"yr":1980.9,"dy":39.6},{"yr":1981.0,"dy":35.4},{"yr":1981.1,"dy":41.6},{"yr":1981.2,"dy":38.0},{"yr":1981.3,"dy":36.0},{"yr":1981.4,"dy":42.0},{"yr":1981.5,"dy":37.6},{"yr":1981.6,"dy":39.8},{"yr":1981.7,"dy":35.0},{"yr":1981.8,"dy":38.6},{"yr":1981.9,"dy":36.8},{"yr":1982.0,"dy":34.0},{"yr":1982.1,"dy":37.2},{"yr":1982.2,"dy":33.2},{"yr":1982.3,"dy":35.6},{"yr":1982.4,"dy":32.6},{"yr":1982.5,"dy":36.4},{"yr":1982.6,"dy":34.4},{"yr":1982.7,"dy":32.0},{"yr":1982.8,"dy":35.0},{"yr":1982.9,"dy":33.4},{"yr":1983.0,"dy":36.0},{"yr":1983.1,"dy":34.0},{"yr":1983.2,"dy":31.6},{"yr":1983.3,"dy":33.8},{"yr":1983.4,"dy":35.6},{"yr":1983.5,"dy":32.8},{"yr":1983.6,"dy":34.6},{"yr":1983.7,"dy":31.0},{"yr":1983.8,"dy":33.2},{"yr":1983.9,"dy":36.2},{"yr":1984.0,"dy":34.4},{"yr":1984.1,"dy":32.2},{"yr":1984.2,"dy":30.8},{"yr":1984.3,"dy":33.6},{"yr":1984.4,"dy":31.4},{"yr":1984.5,"dy":34.8},{"yr":1984.6,"dy":32.6},{"yr":1984.7,"dy":30.4},{"yr":1984.8,"dy":33.0},{"yr":1984.9,"dy":31.8},{"yr":1985.0,"dy":29.8},{"yr":1985.1,"dy":32.4},{"yr":1985.2,"dy":30.6},{"yr":1985.3,"dy":33.4},{"yr":1985.4,"dy":31.2},{"yr":1985.5,"dy":29.4},{"yr":1985.6,"dy":32.0},{"yr":1985.7,"dy":30.2},{"yr":1985.8,"dy":28.4},{"yr":1985.9,"dy":31.0},{"yr":1986.0,"dy":29.6},{"yr":1986.1,"dy":27.6},{"yr":1986.2,"dy":30.6},{"yr":1986.3,"dy":28.8},{"yr":1986.4,"dy":31.6},{"yr":1986.5,"dy":26.6},{"yr":1986.6,"dy":23.8},{"yr":1986.65,"dy":24.4},{"yr":1986.7,"dy":29.0},{"yr":1986.8,"dy":27.2},{"yr":1986.9,"dy":30.2},{"yr":1987.0,"dy":28.2},{"yr":1987.1,"dy":31.4},{"yr":1987.2,"dy":29.4},{"yr":1987.3,"dy":26.8},{"yr":1987.4,"dy":30.0},{"yr":1987.5,"dy":27.8},{"yr":1987.6,"dy":25.8},{"yr":1987.7,"dy":28.6},{"yr":1987.8,"dy":30.8},{"yr":1987.9,"dy":27.0},{"yr":1988.0,"dy":29.2},{"yr":1988.1,"dy":26.2},{"yr":1988.2,"dy":28.4},{"yr":1988.3,"dy":25.4},{"yr":1988.4,"dy":27.6},{"yr":1988.5,"dy":29.8},{"yr":1988.6,"dy":26.0},{"yr":1988.7,"dy":24.6},{"yr":1988.8,"dy":27.0},{"yr":1988.9,"dy":25.2},{"yr":1989.0,"dy":28.0},{"yr":1989.1,"dy":23.6},{"yr":1989.2,"dy":26.4},{"yr":1989.3,"dy":24.2},{"yr":1989.4,"dy":22.6},{"yr":1989.5,"dy":25.0},{"yr":1989.6,"dy":23.2},{"yr":1989.7,"dy":21.6},{"yr":1989.8,"dy":24.4},{"yr":1989.9,"dy":22.2},{"yr":1990.0,"dy":23.8},{"yr":1990.1,"dy":21.0},{"yr":1990.2,"dy":22.8},{"yr":1990.3,"dy":20.6},{"yr":1990.4,"dy":23.4},{"yr":1990.5,"dy":20.5},{"yr":1990.6,"dy":22.0},{"yr":1990.7,"dy":24.6},{"yr":1990.8,"dy":26.2},{"yr":1990.9,"dy":27.4},{"yr":1991.0,"dy":25.6},{"yr":1991.1,"dy":28.2},{"yr":1991.2,"dy":33.4},{"yr":1991.3,"dy":26.8},{"yr":1991.4,"dy":29.0},{"yr":1991.5,"dy":27.2},{"yr":1991.6,"dy":25.8},{"yr":1991.7,"dy":28.6},{"yr":1991.8,"dy":30.4},{"yr":1991.9,"dy":23.2},{"yr":1992.0,"dy":21.8},{"yr":1992.1,"dy":20.6},{"yr":1992.2,"dy":26.6},{"yr":1992.3,"dy":29.4},{"yr":1992.4,"dy":27.8},{"yr":1992.5,"dy":31.2},{"yr":1992.6,"dy":29.2},{"yr":1992.7,"dy":32.6},{"yr":1992.8,"dy":30.0},{"yr":1992.9,"dy":33.4},{"yr":1993.0,"dy":31.6},{"yr":1993.1,"dy":34.0},{"yr":1993.2,"dy":32.4},{"yr":1993.3,"dy":30.6},{"yr":1993.4,"dy":33.6},{"yr":1993.5,"dy":31.0},{"yr":1993.6,"dy":34.6},{"yr":1993.7,"dy":32.0},{"yr":1993.8,"dy":30.2},{"yr":1993.9,"dy":33.0},{"yr":1994.0,"dy":31.4},{"yr":1994.1,"dy":34.2},{"yr":1994.2,"dy":32.6},{"yr":1994.3,"dy":30.0},{"yr":1994.4,"dy":33.4},{"yr":1994.5,"dy":28.8},{"yr":1994.6,"dy":31.8},{"yr":1994.7,"dy":34.8},{"yr":1994.8,"dy":33.0},{"yr":1994.9,"dy":35.6},{"yr":1995.0,"dy":36.8},{"yr":1995.1,"dy":34.4},{"yr":1995.2,"dy":37.6},{"yr":1995.3,"dy":35.8},{"yr":1995.4,"dy":38.2},{"yr":1995.5,"dy":36.4},{"yr":1995.6,"dy":39.2},{"yr":1995.7,"dy":37.2},{"yr":1995.8,"dy":39.8},{"yr":1995.9,"dy":38.4},{"yr":1996.0,"dy":40.2},{"yr":1996.1,"dy":38.8},{"yr":1996.2,"dy":37.4},{"yr":1996.3,"dy":39.6},{"yr":1996.4,"dy":41.0},{"yr":1996.5,"dy":38.2},{"yr":1996.6,"dy":40.6},{"yr":1996.7,"dy":39.0},{"yr":1996.8,"dy":37.8},{"yr":1996.9,"dy":40.0},{"yr":1997.0,"dy":38.6},{"yr":1997.1,"dy":41.2},{"yr":1997.2,"dy":39.4},{"yr":1997.3,"dy":37.0},{"yr":1997.4,"dy":40.4},{"yr":1997.5,"dy":38.4},{"yr":1997.6,"dy":41.8},{"yr":1997.7,"dy":39.2},{"yr":1997.8,"dy":40.8},{"yr":1997.9,"dy":42.4},{"yr":1998.0,"dy":38.0},{"yr":1998.1,"dy":35.4},{"yr":1998.2,"dy":37.2},{"yr":1998.3,"dy":34.2},{"yr":1998.4,"dy":36.0},{"yr":1998.5,"dy":32.8},{"yr":1998.6,"dy":35.2},{"yr":1998.7,"dy":33.6},{"yr":1998.8,"dy":31.2},{"yr":1998.9,"dy":34.8},{"yr":1999.0,"dy":36.6},{"yr":1999.1,"dy":33.0},{"yr":1999.2,"dy":35.8},{"yr":1999.3,"dy":32.2},{"yr":1999.4,"dy":34.4},{"yr":1999.5,"dy":37.4},{"yr":1999.6,"dy":33.4},{"yr":1999.7,"dy":35.6},{"yr":1999.8,"dy":32.6},{"yr":1999.9,"dy":36.2},{"yr":2000.0,"dy":34.0},{"yr":2000.1,"dy":37.0},{"yr":2000.2,"dy":33.2},{"yr":2000.3,"dy":35.0},{"yr":2000.4,"dy":32.0},{"yr":2000.5,"dy":36.4},{"yr":2000.6,"dy":34.2},{"yr":2000.7,"dy":37.8},{"yr":2000.8,"dy":33.8},{"yr":2000.9,"dy":36.0},{"yr":2001.0,"dy":34.6},{"yr":2001.1,"dy":32.4},{"yr":2001.2,"dy":35.4},{"yr":2001.3,"dy":33.0},{"yr":2001.4,"dy":36.8},{"yr":2001.5,"dy":34.0},{"yr":2001.6,"dy":38.6},{"yr":2001.7,"dy":36.4},{"yr":2001.8,"dy":39.2},{"yr":2001.9,"dy":37.4},{"yr":2002.0,"dy":40.0},{"yr":2002.1,"dy":38.2},{"yr":2002.2,"dy":41.0},{"yr":2002.3,"dy":39.0},{"yr":2002.4,"dy":41.6},{"yr":2002.5,"dy":40.4},{"yr":2002.6,"dy":42.0},{"yr":2002.7,"dy":39.6},{"yr":2002.8,"dy":42.4},{"yr":2002.9,"dy":41.2},{"yr":2003.0,"dy":38.4},{"yr":2003.1,"dy":36.0},{"yr":2003.2,"dy":37.8},{"yr":2003.3,"dy":35.2},{"yr":2003.4,"dy":37.3},{"yr":2003.5,"dy":33.6},{"yr":2003.6,"dy":35.8},{"yr":2003.7,"dy":32.4},{"yr":2003.8,"dy":34.6},{"yr":2003.9,"dy":31.6},{"yr":2004.0,"dy":33.8},{"yr":2004.1,"dy":36.2},{"yr":2004.2,"dy":32.8},{"yr":2004.3,"dy":35.0},{"yr":2004.4,"dy":33.2},{"yr":2004.5,"dy":36.4},{"yr":2004.6,"dy":34.0},{"yr":2004.7,"dy":35.6},{"yr":2004.8,"dy":37.5},{"yr":2004.9,"dy":34.8},{"yr":2005.0,"dy":36.6},{"yr":2005.1,"dy":35.2},{"yr":2005.2,"dy":37.0},{"yr":2005.3,"dy":34.4}
]
},
"layer": [
 {
  "data": {"name": "pts"},
  "mark": {"type": "point", "shape": "diamond", "filled": false, "size": 38, "strokeWidth": 1.4, "color": "#333333", "opacity": 0.9},
  "encoding": {
   "x": {"field": "yr", "type": "quantitative", "scale": {"domain": [1885, 2010], "nice": false, "zero": false},
         "axis": {"orient": "bottom", "values": [1890,1900,1910,1920,1930,1940,1950,1960,1970,1980,1990,2000,2010], "format": "d", "tickSize": -27, "labelPadding": 39, "labelBaseline": "top", "title": "Time of centre of sliding window (year)", "titleX": 683, "titleY": 82, "titleAnchor": "middle", "titleAlign": "center", "titleBaseline": "alphabetic"}},
   "y": {"field": "dy", "type": "quantitative", "scale": {"domain": [0, 80], "nice": false, "zero": false},
         "axis": {"orient": "left", "values": [0,5,10,15,20,25,30,35,40,45,50,55,60,65,70,75,80], "format": "d", "tickSize": -27, "labelPadding": 39, "title": "dY/dt\u00a0\u00a0\u00a0\u00a0/\u00a0\u00a0\u00a0\u00a0nT/yr", "titleX": -85, "titleY": 465, "titleAngle": -90, "titleAlign": "center", "titleBaseline": "middle"}}
  }
 },
 {
  "data": {"name": "arrows"},
  "transform": [{"calculate": "datum.to + 2", "as": "neck"}],
  "mark": {"type": "rule", "strokeWidth": 5, "strokeCap": "butt"},
  "encoding": {
   "x": {"field": "yr", "type": "quantitative", "axis": {"orient": "bottom", "values": [1895,1905,1915,1925,1935,1945,1955,1965,1975,1985,1995,2005], "tickSize": -14, "labels": false, "title": null}},
   "y": {"field": "from", "type": "quantitative", "axis": {"orient": "left", "values": [2.5,7.5,12.5,17.5,22.5,27.5,32.5,37.5,42.5,47.5,52.5,57.5,62.5,67.5,72.5,77.5], "tickSize": -14, "labels": false, "title": null}},
   "y2": {"field": "neck"},
   "color": {"field": "kind", "type": "nominal", "scale": {"domain": ["black", "red"], "range": ["#1a1a1a", "#e3262b"]}, "legend": null}
  }
 },
 {
  "data": {"name": "arrows"},
  "mark": {"type": "point", "shape": "M-1,-1.8L1,-1.8L0,0Z", "filled": true, "size": 750, "opacity": 1, "strokeWidth": 0},
  "encoding": {
   "x": {"field": "yr", "type": "quantitative", "axis": {"orient": "top", "values": [1890,1900,1910,1920,1930,1940,1950,1960,1970,1980,1990,2000], "tickSize": -27, "labels": false, "title": null}},
   "y": {"field": "to", "type": "quantitative", "axis": {"orient": "right", "values": [0,5,10,15,20,25,30,35,40,45,50,55,60,65,70,75,80], "tickSize": -27, "labels": false, "title": null}},
   "color": {"field": "kind", "type": "nominal", "scale": {"domain": ["black", "red"], "range": ["#1a1a1a", "#e3262b"]}, "legend": null}
  }
 },
 {
  "data": {"name": "label"},
  "mark": {"type": "text", "font": "Liberation Sans", "fontSize": 96, "color": "#ffffff", "opacity": 0.8, "align": "center", "baseline": "middle"},
  "encoding": {
   "x": {"field": "yr", "type": "quantitative", "axis": {"orient": "top", "values": [1895,1905,1915,1925,1935,1945,1955,1965,1975,1985,1995,2005], "tickSize": -14, "labels": false, "title": null}},
   "y": {"field": "dy", "type": "quantitative", "axis": {"orient": "right", "values": [2.5,7.5,12.5,17.5,22.5,27.5,32.5,37.5,42.5,47.5,52.5,57.5,62.5,67.5,72.5,77.5], "tickSize": -14, "labels": false, "title": null}},
   "text": {"field": "txt"}
  }
 }
],
"resolve": {"axis": {"x": "independent", "y": "independent"}}
}
